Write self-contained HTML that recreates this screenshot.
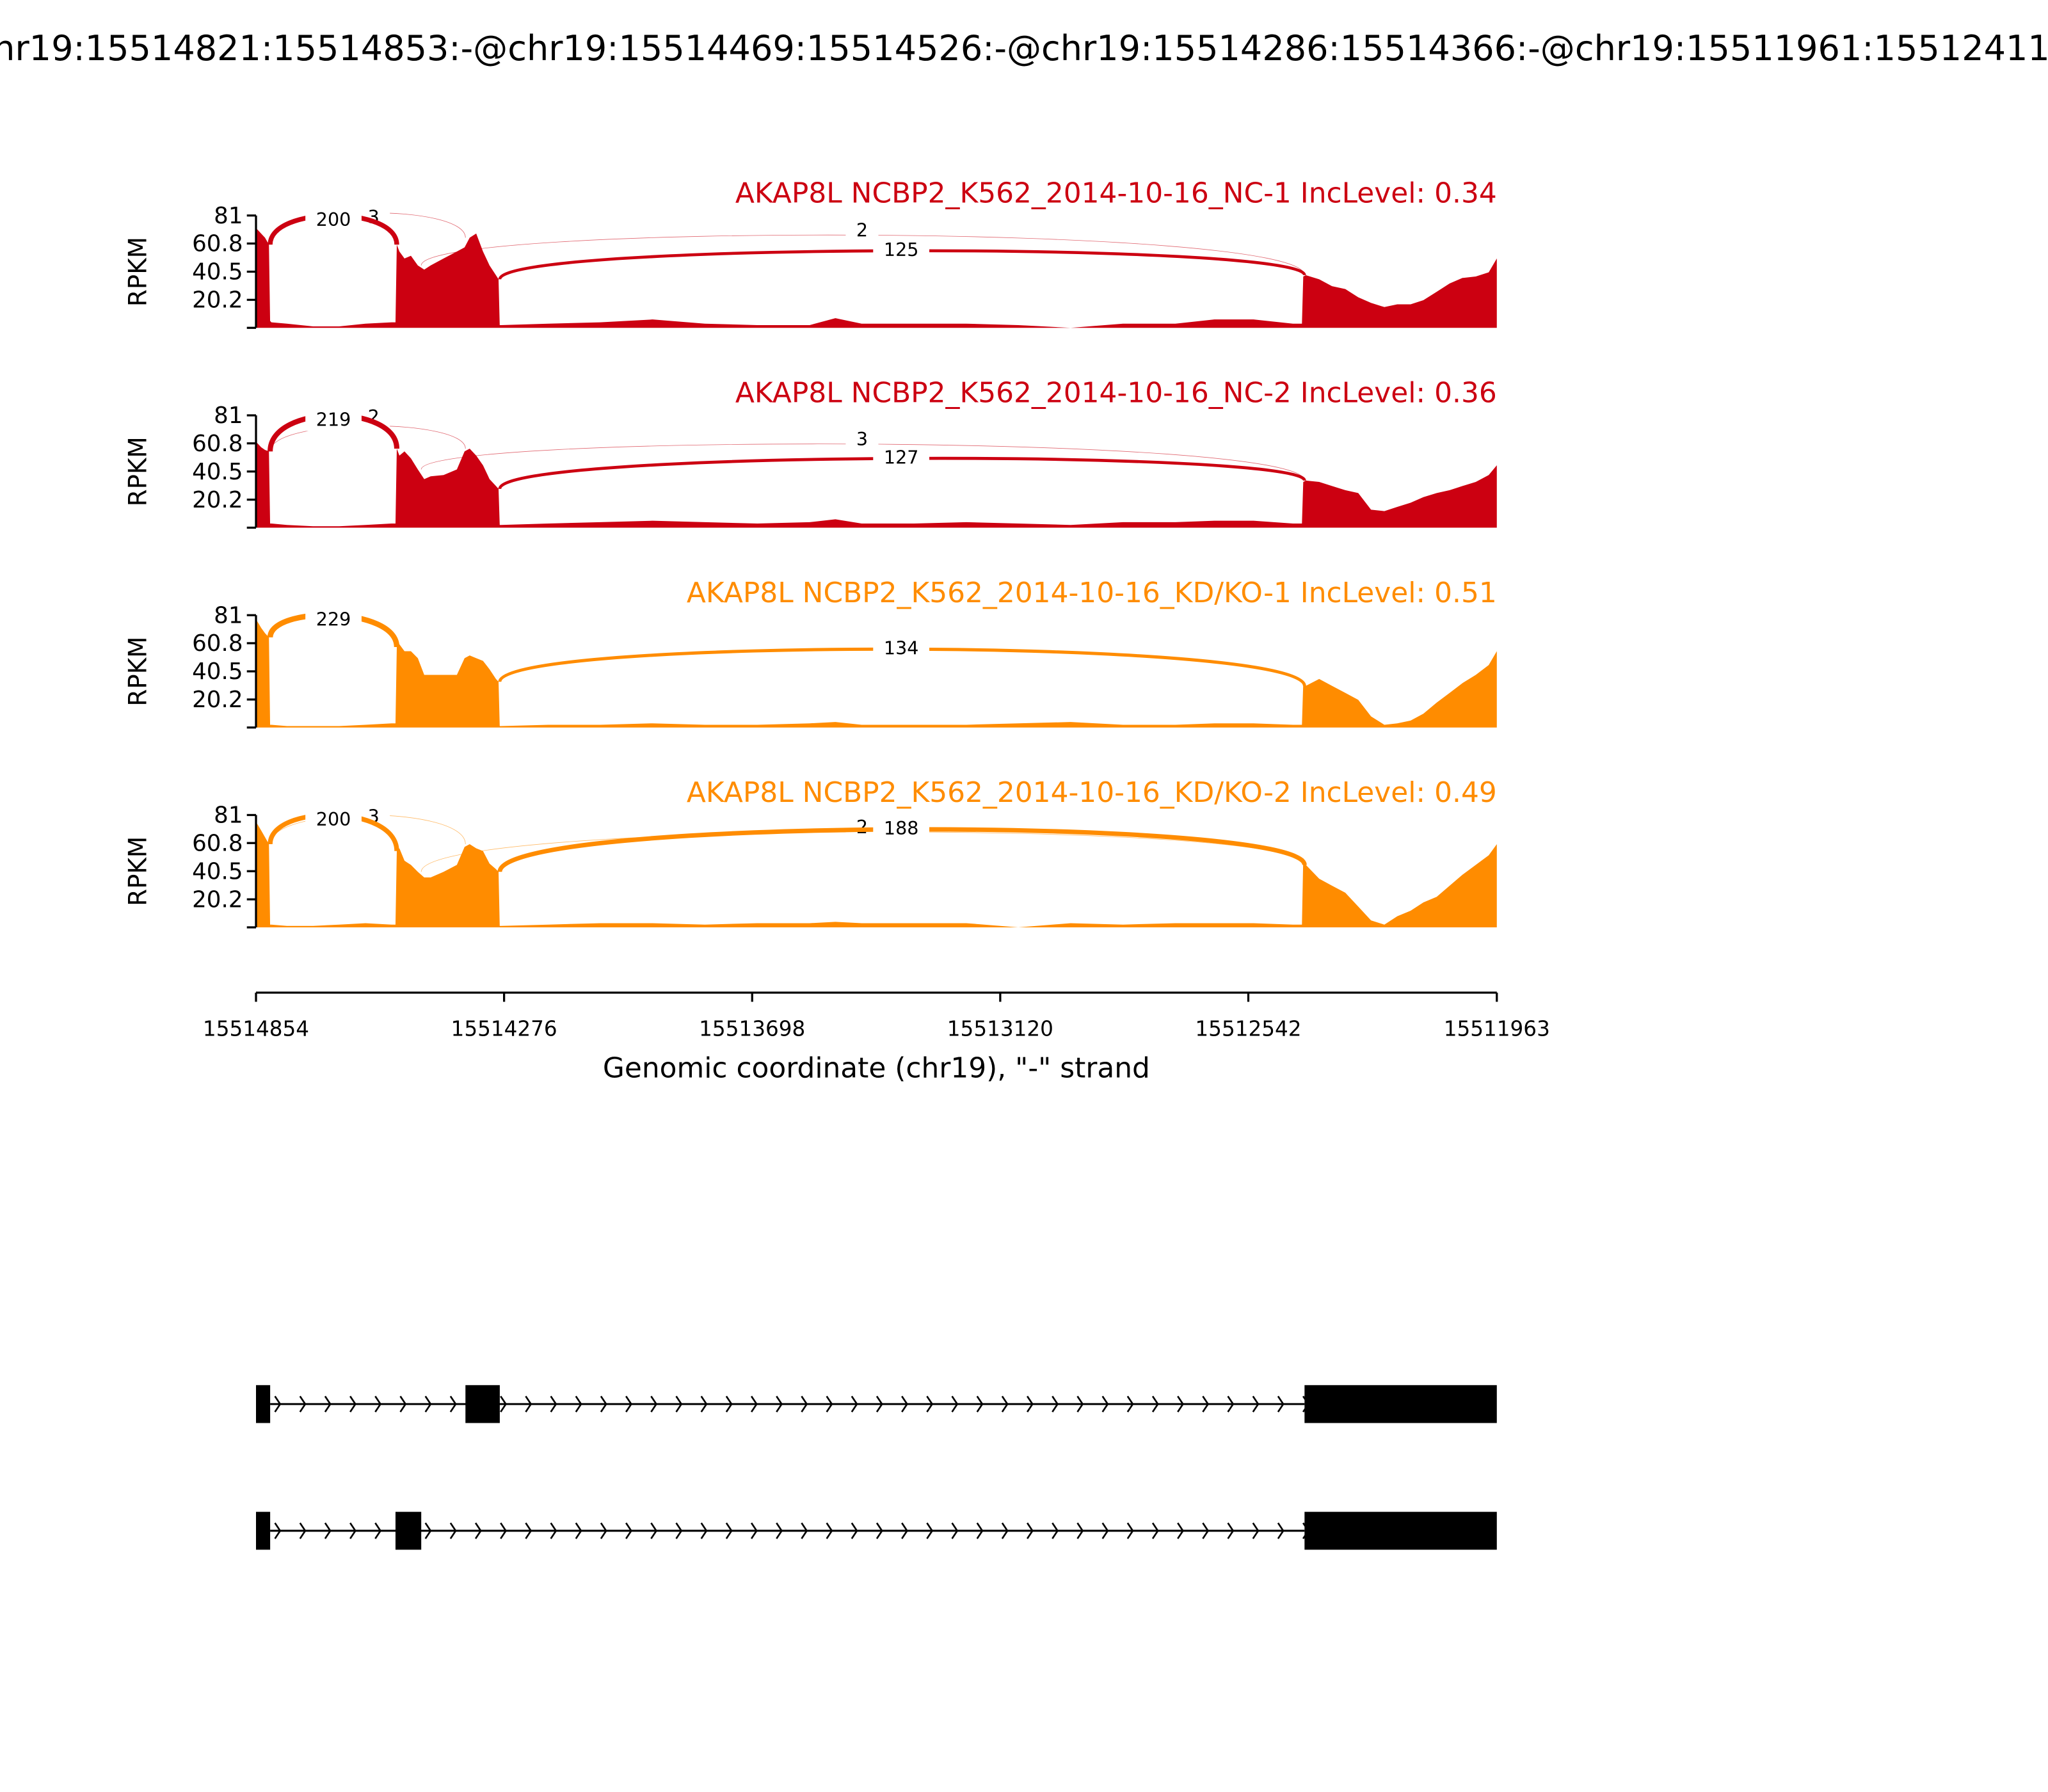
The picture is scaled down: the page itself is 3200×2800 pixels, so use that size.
<!DOCTYPE html>
<html><head><meta charset="utf-8"><style>
html,body{margin:0;padding:0;background:#fff;}
svg{display:block;}
text{font-family:"DejaVu Sans","Liberation Sans",sans-serif;}
</style></head><body>
<svg id="chart" xmlns="http://www.w3.org/2000/svg" width="3200" height="2800" viewBox="0 0 1568 1372">
<rect width="1568" height="1372" fill="#fff"/>
<text x="784" y="46" font-size="26.5" text-anchor="middle">chr19:15514821:15514853:-@chr19:15514469:15514526:-@chr19:15514286:15514366:-@chr19:15511961:15512411:-</text>
<g id="panels"></g>
<g id="xaxis"></g>
<g id="genes"></g>
</svg>
<script>
// ---- data ----
const xStart = 15514854, xEnd = 15511963;
const yMax = 81;
const yTickLabels = ["20.2","40.5","60.8","81"];
const yTickValues = [20.2,40.5,60.8,81];
const xTickValues = [15514854,15514276,15513698,15513120,15512542,15511963];
const sampleNames = ["AKAP8L NCBP2_K562_2014-10-16_NC-1 IncLevel: 0.34","AKAP8L NCBP2_K562_2014-10-16_NC-2 IncLevel: 0.36","AKAP8L NCBP2_K562_2014-10-16_KD/KO-1 IncLevel: 0.51","AKAP8L NCBP2_K562_2014-10-16_KD/KO-2 IncLevel: 0.49"];
const covPos = [15514854,15514848,15514842,15514833,15514824,15514821,15514818,15514782,15514721,15514660,15514599,15514538,15514529,15514526,15514520,15514508,15514493,15514477,15514462,15514447,15514417,15514386,15514368,15514356,15514341,15514325,15514310,15514295,15514289,15514286,15514283,15514173,15514052,15513930,15513808,15513686,15513564,15513504,15513443,15513321,15513199,15513078,15512956,15512834,15512712,15512621,15512530,15512438,15512417,15512414,15512408,15512377,15512347,15512316,15512286,15512256,15512225,15512195,15512164,15512134,15512103,15512073,15512043,15512012,15511982,15511963];
const cov1 = [72,70,68,65,60,5,4,3,1,1,3,4,4,60,55,50,52,45,42,45,50,55,58,65,68,55,45,38,35,2,2,3,4,6,3,2,2,7,3,3,3,2,0,3,3,6,6,3,3,37,38,35,30,28,22,18,15,17,17,20,26,32,36,37,40,50];
const cov2 = [62,60,58,56,55,3,3,2,1,1,2,3,3,57,52,55,50,42,35,37,38,42,55,57,52,45,35,30,28,2,2,3,4,5,4,3,4,6,3,3,4,3,2,4,4,5,5,3,3,33,34,33,30,27,25,13,12,15,18,22,25,27,30,33,38,45];
const cov3 = [78,75,72,68,65,2,2,1,1,1,2,3,3,58,60,55,55,50,38,38,38,38,50,52,50,48,42,35,33,1,1,2,2,3,2,2,3,4,2,2,2,3,4,2,2,3,3,2,2,32,30,35,30,25,20,8,2,3,5,10,18,25,32,38,45,55];
const cov4 = [76,73,70,65,60,2,2,1,1,2,3,2,2,55,57,48,45,40,36,36,40,45,58,60,57,55,46,42,40,1,1,2,3,3,2,3,3,4,3,3,3,0,3,2,3,3,3,2,2,50,45,35,30,25,15,5,2,8,12,18,22,30,38,45,52,60];
const covAll = [cov1,cov2,cov3,cov4];
// junction counts per sample: [exon1->exonB(short), exon1->exonA, exonB->last, exonA->last]
const junc1 = [200,3,2,125];
const junc2 = [219,2,3,127];
const junc3 = [229,0,0,134];
const junc4 = [200,3,2,188];
const juncAll = [junc1,junc2,junc3,junc4];
const juncStart = [15514821,15514821,15514469,15514286];
const juncEnd = [15514526,15514366,15512411,15512411];
const tx1Exons = [[15514854,15514821],[15514366,15514286],[15512411,15511963]];
const tx2Exons = [[15514854,15514821],[15514529,15514469],[15512411,15511963]];

// ---- layout ----
const X0=196, X1=1146;
const colors=["#CC0011","#CC0011","#FF8C00","#FF8C00"];
const panelTop=[165,318,471,624], panelH=86;
const NS="http://www.w3.org/2000/svg";
function xs(c){return X0+(xStart-c)/(xStart-xEnd)*(X1-X0);}
function mk(tag,attrs,parent,txt){const e=document.createElementNS(NS,tag);for(const k in attrs)e.setAttribute(k,attrs[k]);if(txt!==undefined)e.textContent=txt;parent.appendChild(e);return e;}
const panels=document.getElementById('panels');
const arcPeak=[[0,-2,15,27],[0,8,22,33],[0,0,0,26],[0,0,13,11]];
const labelX=[255,286,660,690];
covAll.forEach((cov,p)=>{
  const top=panelTop[p], bot=top+panelH;
  const ys=v=>bot-v/yMax*panelH;
  const g=mk('g',{},panels);
  
  
  let d='M'+xs(covPos[0])+','+bot;
  covPos.forEach((c,i)=>{d+=' L'+xs(c).toFixed(1)+','+ys(cov[i]).toFixed(1);});
  d+=' L'+xs(covPos[covPos.length-1])+','+bot+' Z';
  const area=mk('path',{d:d,fill:colors[p]},g);
  
  
  const counts=juncAll[p];
  const order=[1,2,3,0];
  order.forEach(j=>{
    const n=counts[j];
    if(n<=0)return;
    const x1=xs(juncStart[j]), x2=xs(juncEnd[j]);
    const ci1=covPos.findIndex(c=>c<=juncStart[j]);
    const y1=ys(cov[Math.max(0,ci1-1)]), y2=ys(cov[covPos.findIndex(c=>c<=juncEnd[j])]);
    const peak=top+arcPeak[p][j];
    const yc=(peak-0.125*(y1+y2))/0.75;
    const w=Math.max(0.4,n/55);
    const arc=mk('path',{d:`M${x1},${y1} C${x1},${yc} ${x2},${yc} ${x2},${y2}`,fill:'none',stroke:colors[p],'stroke-width':w,opacity:n<10?0.6:1},g);
    
    
    const lx=j===0?(x1+x2)/2:labelX[j];
    const ly=j===0?top+3:(j===1?top+1:peak+(j===3?-1:-4));
    const tw=String(n).length*9+16;
    const bg=mk('rect',{x:lx-tw/2,y:ly-9,width:tw,height:18,fill:'#fff'},g);
    
    
    const t=mk('text',{x:lx,y:ly+5,'font-size':14,'text-anchor':'middle'},g,String(n));
    
    
  });
  const ax=mk('path',{d:`M${X0},${top} V${bot}`,stroke:'#000','stroke-width':1.6,fill:'none'},g);
  
  
  [0].concat(yTickValues).forEach(v=>{
    const tk=mk('line',{x1:X0-7,x2:X0,y1:ys(v),y2:ys(v),stroke:'#000','stroke-width':1.6},g);
    
    
  });
  yTickValues.forEach((v,i)=>{
    const t=mk('text',{x:X0-10,y:ys(v)+6,'font-size':17.5,'text-anchor':'end'},g,yTickLabels[i]);
    
    
  });
  const yl=mk('text',{x:0,y:0,'font-size':19,'text-anchor':'middle',transform:`translate(112,${top+panelH/2}) rotate(-90)`},g,'RPKM');
  
  
  const st=mk('text',{x:X1,y:top-10,'font-size':21.5,'text-anchor':'end',fill:colors[p]},g,sampleNames[p]);
  
  
});
const xa=document.getElementById('xaxis');
const xl=mk('line',{x1:X0,x2:X1,y1:760,y2:760,stroke:'#000','stroke-width':1.6},xa);


xTickValues.forEach(v=>{
  const tk=mk('line',{x1:xs(v),x2:xs(v),y1:760,y2:767,stroke:'#000','stroke-width':1.6},xa);
  
  
  const t=mk('text',{x:xs(v),y:793,'font-size':16,'text-anchor':'middle'},xa,String(v));
  
  
});
const xt=mk('text',{x:671,y:825,'font-size':21.5,'text-anchor':'middle'},xa,'Genomic coordinate (chr19), "-" strand');


const gg=document.getElementById('genes');
[[tx1Exons,1075],[tx2Exons,1172]].forEach(([ex,y],k)=>{
  const g=mk('g',{},gg);
  
  
  const ln=mk('line',{x1:xs(ex[0][1]),x2:xs(ex[2][0]),y1:y,y2:y,stroke:'#000','stroke-width':1.5},g);
  
  
  for(let cx=210.5;cx<xs(ex[2][0]);cx+=19.2){
    const ch=mk('path',{d:`M${cx},${y-6} L${cx+4},${y} L${cx},${y+6}`,fill:'none',stroke:'#000','stroke-width':1.3},g);
    
    
  }
  ex.forEach(e=>{
    const r=mk('rect',{x:xs(e[0]),y:y-14.5,width:xs(e[1])-xs(e[0]),height:29,fill:'#000'},g);
    
    
  });
});
</script>
</body></html>
